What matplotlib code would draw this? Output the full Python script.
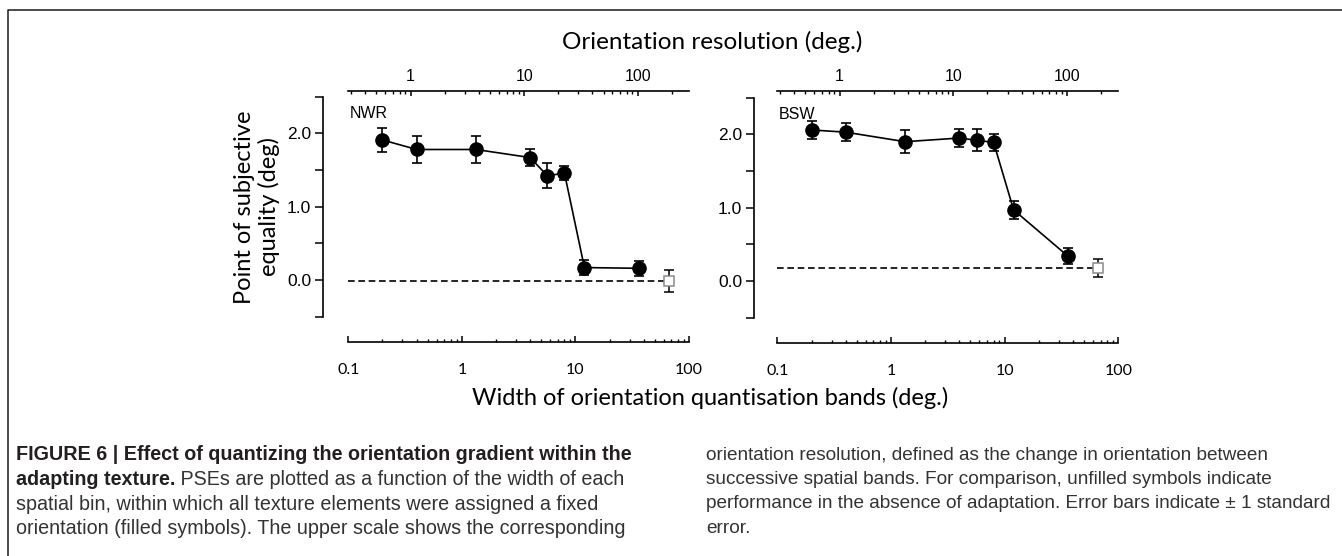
import matplotlib
matplotlib.use("Agg")
import matplotlib.pyplot as plt
from matplotlib import font_manager
from matplotlib.lines import Line2D
from matplotlib.ticker import FixedLocator, FuncFormatter, NullFormatter

# ---------------- data ----------------
band_width = [0.2, 0.4, 1.33, 4.0, 5.66, 8.0, 12.0, 36.0]   # deg (filled symbols)
baseline_x = 66.0                                              # unfilled symbol position

nwr_pse = [1.91, 1.78, 1.78, 1.67, 1.42, 1.46, 0.17, 0.16]
nwr_err = [0.16, 0.18, 0.18, 0.12, 0.17, 0.10, 0.10, 0.10]
nwr_base = -0.01
nwr_base_err = 0.15

bsw_pse = [2.06, 2.03, 1.90, 1.95, 1.92, 1.89, 0.97, 0.34]
bsw_err = [0.12, 0.12, 0.16, 0.12, 0.15, 0.12, 0.12, 0.11]
bsw_base = 0.175
bsw_base_err = 0.12

observers = ["NWR", "BSW"]
resolution_factor = 2.83   # orientation resolution = width * factor (upper scale)

bottom_ticks = [0.1, 1, 10, 100]
top_ticks = [1, 10, 100]
y_major = [0.0, 1.0, 2.0]
y_minor = [-0.5, 0.5, 1.5, 2.5]

title_top = "Orientation resolution (deg.)"
xlabel = "Width of orientation quantisation bands (deg.)"
ylabel = "Point of subjective\nequality (deg)"

# ---------------- fonts ----------------
avail = {f.name for f in font_manager.fontManager.ttflist}
narrow = "Liberation Sans Narrow" if "Liberation Sans Narrow" in avail else "Liberation Sans"
label_font = "Lato"

W, H, DPI = 1342, 556, 100
fig = plt.figure(figsize=(W / DPI, H / DPI), dpi=DPI)
fig.patch.set_facecolor("white")

def px(x, y):
    return x / W, 1 - y / H

PT = 72.0 / DPI  # points per pixel

panels = [
    dict(x0=348.3, x1=689.0, ytop=96.7, ybot=316.7, spine_x=323, top_y=90.7, bot_y=342.3,
         pse=nwr_pse, err=nwr_err, base=nwr_base, base_err=nwr_base_err, name=observers[0]),
    dict(x0=777.3, x1=1118.3, ytop=97.7, ybot=317.7, spine_x=754, top_y=90.7, bot_y=343.3,
         pse=bsw_pse, err=bsw_err, base=bsw_base, base_err=bsw_base_err, name=observers[1]),
]

fmt = FuncFormatter(lambda v, p: "%g" % v)

for P in panels:
    l, b = P["x0"] / W, 1 - P["ybot"] / H
    w, h = (P["x1"] - P["x0"]) / W, (P["ybot"] - P["ytop"]) / H
    ax = fig.add_axes([l, b, w, h])
    ax.set_facecolor("none")
    ax.set_xscale("log")
    ax.set_xlim(0.1, 100)
    ax.set_ylim(-0.5, 2.5)

    # dashed baseline and unfilled symbol
    ax.plot([0.1, baseline_x], [P["base"], P["base"]], ls=(0, (4, 2.2)), color="black", lw=1.2, zorder=2)
    ax.errorbar([baseline_x], [P["base"]], yerr=[P["base_err"]], fmt="s", ms=6.5,
                mfc="white", mec="#8a8a8a", mew=1.1, ecolor="black", elinewidth=1.1,
                capsize=3.6, capthick=1.1, zorder=3)
    # filled symbols
    ax.plot(band_width, P["pse"], color="black", lw=1.2, zorder=3)
    ax.errorbar(band_width, P["pse"], yerr=P["err"], fmt="o", ms=9.5, mfc="black", mec="black",
                ecolor="black", elinewidth=1.2, capsize=3.8, capthick=1.2, zorder=4)

    ax.text(0.103, 2.27, P["name"], fontsize=11.5, family=narrow, ha="left", va="center")

    # spines
    ax.spines["right"].set_visible(False)
    ax.spines["top"].set_visible(False)
    ax.spines["left"].set_position(("outward", (P["x0"] - P["spine_x"]) * PT))
    ax.spines["bottom"].set_position(("outward", (P["bot_y"] - P["ybot"]) * PT))
    for s in ["left", "bottom"]:
        ax.spines[s].set_linewidth(1.2)

    ax.yaxis.set_major_locator(FixedLocator(y_major))
    ax.yaxis.set_minor_locator(FixedLocator(y_minor))
    ax.yaxis.set_major_formatter(FuncFormatter(lambda v, p: "%.1f" % v))
    ax.tick_params(axis="y", which="major", direction="out", length=5.5, width=1.1,
                   labelsize=12.5, pad=3)
    ax.tick_params(axis="y", which="minor", direction="out", length=5.5, width=1.1)
    for t in ax.get_yticklabels():
        t.set_family(narrow)

    ax.xaxis.set_major_locator(FixedLocator(bottom_ticks))
    ax.xaxis.set_minor_locator(FixedLocator([m * d for d in [0.1, 1, 10] for m in range(2, 10)]))
    ax.xaxis.set_major_formatter(fmt)
    ax.xaxis.set_minor_formatter(NullFormatter())
    ax.tick_params(axis="x", which="major", direction="in", length=4, width=1.1,
                   labelsize=11.5, pad=15)
    ax.tick_params(axis="x", which="minor", direction="in", length=2.5, width=1.0)
    for t in ax.get_xticklabels():
        t.set_family(label_font)

    # upper scale
    ax2 = ax.twiny()
    ax2.set_xscale("log")
    ax2.set_xlim(0.1 * resolution_factor, 100 * resolution_factor)
    for s in ["left", "right", "bottom"]:
        ax2.spines[s].set_visible(False)
    ax2.spines["top"].set_position(("outward", (P["ytop"] - P["top_y"]) * PT))
    ax2.spines["top"].set_linewidth(1.2)
    ax2.xaxis.set_major_locator(FixedLocator(top_ticks))
    ax2.xaxis.set_minor_locator(FixedLocator([m * d for d in [0.1, 1, 10, 100] for m in range(2, 10)]))
    ax2.xaxis.set_major_formatter(fmt)
    ax2.xaxis.set_minor_formatter(NullFormatter())
    ax2.tick_params(axis="x", which="major", direction="in", length=3.5, width=1.1,
                    labelsize=11.5, pad=5)
    ax2.tick_params(axis="x", which="minor", direction="in", length=2.5, width=1.0)
    for t in ax2.get_xticklabels():
        t.set_family(narrow)

# ---------------- figure texts ----------------
fig.text(*px(712, 42), title_top, ha="center", va="center", fontsize=17.5, family=label_font)
fig.text(*px(710, 398), xlabel, ha="center", va="center", fontsize=17, family=label_font)
fig.text(*px(257, 207), ylabel, ha="center", va="center", rotation=90, fontsize=17,
         family=label_font, multialignment="center", linespacing=1.2)

# border
fig.add_artist(Line2D([7.5 / W, 7.5 / W, 1.0], [0.0, 1 - 9.5 / H, 1 - 9.5 / H],
                      transform=fig.transFigure, color="#1a1a1a", lw=1.1))

# ---------------- caption ----------------
left_lines = [
    [("FIGURE 6 | Effect of quantizing the orientation gradient within the", "bold")],
    [("adapting texture.", "bold"), (" PSEs are plotted as a function of the width of each", "normal")],
    [("spatial bin, within which all texture elements were assigned a fixed", "normal")],
    [("orientation (filled symbols). The upper scale shows the corresponding", "normal")],
]
right_lines = [
    [("orientation resolution, defined as the change in orientation between", "normal")],
    [("successive spatial bands. For comparison, unfilled symbols indicate", "normal")],
    [("performance in the absence of adaptation. Error bars indicate \u00b1 1 standard", "normal")],
    [("error.", "normal")],
]
line_y = [455, 479.5, 504, 528.5]

renderer = fig.canvas.get_renderer()
def write_lines(x0, lines, size):
    for yy, segs in zip(line_y, lines):
        x = x0
        for txt, wt in segs:
            t = fig.text(*px(x, yy), txt, ha="left", va="center", fontsize=size,
                         family=narrow, weight=wt, color="#231f20" if wt == "bold" else "#333333")
            bb = t.get_window_extent(renderer=renderer)
            x += bb.width

write_lines(16, left_lines, 14.2)
write_lines(706, right_lines, 13.7)

fig.savefig("out.png", dpi=DPI, facecolor="white")
